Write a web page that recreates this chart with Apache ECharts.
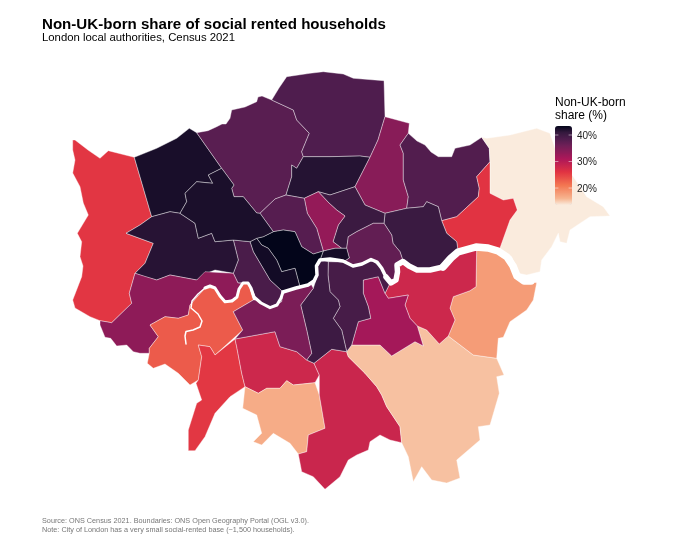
<!DOCTYPE html>
<html><head><meta charset="utf-8">
<style>html,body{margin:0;padding:0;background:#fff}#c{width:680px;height:544px}</style>
<script src="https://cdn.jsdelivr.net/npm/echarts@6/dist/echarts.min.js"></script>
</head><body><div id="c"></div>
<script>
const boroughs = ['Hillingdon','Harrow','Barnet','Enfield','Haringey','Waltham Forest','Redbridge','Havering','Barking and Dagenham','Newham','Hackney','Tower Hamlets','Islington','City of London','Camden','Westminster','Kensington and Chelsea','Hammersmith and Fulham','Ealing','Brent','Hounslow','Richmond upon Thames','Kingston upon Thames','Merton','Sutton','Croydon','Bromley','Bexley','Greenwich','Lewisham','Southwark','Lambeth','Wandsworth'];
const shareValues = [25.8,42.3,37.7,38.5,41.7,34,38.3,13.6,26,40.5,40.4,37,33,42.5,38,43.4,42.6,39,41.6,42.2,33.5,23,25.7,28,16.7,28.3,15.5,18,28,31.7,39.3,40.2,35];
const colourStops = ['#faebdd','#f6b48f','#f59570','#f37651','#ea5449','#e13342','#c7254e','#ad1759','#8e1b58','#701f57','#501d4e','#35193e','#03051a'];
const legendTicks = [40,30,20];
const scaleMin = 13.6, scaleMax = 43.4;

const outlines = {
'Hillingdon':[[72.7,140],[75,140],[88,150],[100,158.3],[108.3,150.7],[134.3,157.3],[151.7,216.7],[140,225],[126,233.3],[153.3,243.3],[145,263.3],[135,273.3],[129.3,293.3],[131.7,303.3],[111.7,322.7],[100,320.7],[90,316.7],[75,308],[72.7,300],[81.7,276.7],[83,266],[80,256.7],[81.7,241.7],[77.3,233.3],[88.3,215],[83.3,203],[80,186.7],[72.7,173],[75,160],[72.7,150]],
'Harrow':[[134.3,157.3],[156.7,148.3],[176.7,138.3],[189.3,128.3],[196.7,132.7],[221.7,168.3],[208.3,175],[212.7,183.3],[196.7,181.7],[185,193.3],[186.7,201.7],[180,213.3],[170,211.7],[151.7,216.7]],
'Barnet':[[196.7,132.7],[208,130.7],[216.7,126.7],[222,124],[226,124],[230,118.3],[231.7,110],[245,107],[256.7,101.7],[258,97],[262,96],[271.7,100],[293.3,110],[296.7,120],[309.3,133.3],[301.7,151.7],[303.3,156.7],[296.7,168.3],[291.7,165],[291.7,176.7],[286,195],[275,199],[260,213.3],[256.7,213],[243.3,196.7],[234,196.7],[231.7,188.3],[234,185],[221.7,168.3]],
'Enfield':[[271.7,100],[279,88],[286.7,76.7],[310,73.3],[323.3,71.7],[343.3,74],[353.3,78.3],[384,80.7],[385,116.7],[378,140],[370,157.3],[360,156],[330,156.7],[303.3,156.7],[301.7,151.7],[309.3,133.3],[296.7,120],[293.3,110]],
'Haringey':[[303.3,156.7],[330,156.7],[360,156],[370,157.3],[355,186.7],[330,195],[318.3,191.7],[304.3,198.3],[286,195],[291.7,176.7],[291.7,165],[296.7,168.3]],
'Waltham Forest':[[385,116.7],[409.3,123.3],[408.3,133.3],[400,145],[403.3,153.3],[403.3,180],[408.3,196.7],[406.7,208.3],[385,213.3],[365,205],[355,186.7],[370,157.3],[378,140]],
'Redbridge':[[408.3,133.3],[417,141],[425,145],[431,152],[438.3,156.7],[451.7,156.7],[455,148.3],[470,145],[481.7,137.3],[489.3,148.3],[490,161.7],[476.7,176.7],[479.3,188.3],[478.3,196.7],[456.7,216.7],[441.7,220.7],[438.3,206.7],[426.7,201.7],[423.3,206.7],[406.7,208.3],[408.3,196.7],[403.3,180],[403.3,153.3],[400,145]],
'Havering':[[481.7,137.3],[486.7,138.3],[510,135],[536.7,128.3],[550,133.3],[556.7,153],[573.3,176.7],[586.7,196.7],[603.3,206.7],[610,216],[590,216.7],[570,230],[566.7,243.3],[560,241.7],[558.3,233.3],[551.7,246.7],[541.7,260],[540,271.7],[526.7,275],[518.3,273.3],[511.7,256.7],[499.3,250],[510,220],[517.3,210],[513.3,198.3],[503.3,200],[490,193.3],[490,161.7],[489.3,148.3]],
'Barking and Dagenham':[[490,161.7],[490,193.3],[503.3,200],[513.3,198.3],[517.3,210],[510,220],[499.3,250],[476.7,246.7],[458.3,252],[456.7,241.7],[446.7,233.3],[441.7,220.7],[456.7,216.7],[478.3,196.7],[479.3,188.3],[476.7,176.7]],
'Newham':[[385,213.3],[406.7,208.3],[423.3,206.7],[426.7,201.7],[438.3,206.7],[441.7,220.7],[446.7,233.3],[456.7,241.7],[458.3,252],[443.3,266.7],[416.7,270],[403.3,261.7],[400,251.7],[393,243.3],[391.7,235],[384,223.3]],
'Hackney':[[330,195],[355,186.7],[365,205],[385,213.3],[384,223.3],[373.3,223.3],[356.7,231.7],[348.3,236.7],[346.7,248.3],[341.7,248.3],[333,241.7],[338.3,225],[345,216],[336.7,210],[329,203],[318.3,191.7]],
'Tower Hamlets':[[348.3,236.7],[356.7,231.7],[373.3,223.3],[384,223.3],[391.7,235],[393,243.3],[400,251.7],[403.3,261.7],[396.7,265],[397.3,276.7],[390,283.3],[381.7,268.3],[371.7,260],[353.3,266.7],[343,262],[349.3,258],[346.7,248.3]],
'Islington':[[304.3,198.3],[318.3,191.7],[329,203],[336.7,210],[345,216],[338.3,225],[333,241.7],[341.7,248.3],[335,248.3],[323.3,251],[316.7,228.3],[307.3,213.3]],
'City of London':[[323.3,251],[335,248.3],[346.7,248.3],[349.3,258],[343,262],[330,259],[320,260]],
'Camden':[[286,195],[304.3,198.3],[307.3,213.3],[316.7,228.3],[323.3,251],[313.3,254],[301.7,246.7],[295,231.7],[283.3,230],[273.3,231.7],[260,213.3],[275,199]],
'Westminster':[[273.3,231.7],[283.3,230],[295,231.7],[301.7,246.7],[313.3,254],[323.3,251],[320,260],[316.7,265],[316.7,278],[311,284],[300,287],[295,268.3],[281.7,271.7],[276.7,260],[268.3,248.3],[261.7,245],[256.7,238.3],[263.3,236.7]],
'Kensington and Chelsea':[[250,241.7],[256.7,238.3],[261.7,245],[268.3,248.3],[276.7,260],[281.7,271.7],[295,268.3],[300,287],[283,292],[270,280],[253.3,251.7]],
'Hammersmith and Fulham':[[233.3,240],[250,241.7],[253.3,251.7],[270,280],[283,292],[281.7,301.7],[270,307.7],[256.7,300],[251.7,288.3],[245,282.7],[238,283],[233.3,273.3],[238.3,260]],
'Ealing':[[151.7,216.7],[170,211.7],[180,213.3],[195,223.3],[198.3,238.3],[211.7,233.3],[215,241.7],[233.3,240],[238.3,260],[233.3,273.3],[215,270],[206.7,273.3],[196.7,280],[170,275],[156.7,280],[145,276.7],[135,273.3],[145,263.3],[153.3,243.3],[126,233.3],[140,225]],
'Brent':[[221.7,168.3],[234,185],[231.7,188.3],[234,196.7],[243.3,196.7],[256.7,213],[260,213.3],[273.3,231.7],[263.3,236.7],[256.7,238.3],[250,241.7],[233.3,240],[215,241.7],[211.7,233.3],[198.3,238.3],[195,223.3],[180,213.3],[186.7,201.7],[185,193.3],[196.7,181.7],[212.7,183.3],[208.3,175]],
'Hounslow':[[135,273.3],[156.7,280],[170,275],[196.7,280],[205,271.7],[233.3,273.3],[238,283],[241.7,283.3],[236.7,298.3],[225,301.7],[215,288],[205,288],[190,305],[188.3,315],[178.3,318.3],[165,316.7],[150,325],[158.3,336.7],[149.3,348.3],[149.3,353.3],[140,353.3],[133.3,351.7],[126.7,345],[116.7,346],[110.7,338.3],[105,337.3],[100,325],[100,320.7],[111.7,322.7],[131.7,303.3],[129.3,293.3]],
'Richmond upon Thames':[[190,305],[205,288],[215,288],[225,301.7],[236.7,298.3],[241.7,283.3],[248.3,283.3],[253.3,300],[233.3,311.7],[242.7,330],[215,355],[210,346.7],[198.3,345],[201.7,356.7],[198.3,380],[190,385],[178.3,373.3],[165,364],[153.3,368.3],[147.3,363.3],[149.3,353.3],[149.3,348.3],[158.3,336.7],[150,325],[165,316.7],[178.3,318.3],[188.3,315]],
'Kingston upon Thames':[[198.3,345],[210,346.7],[215,355],[235,339],[236.7,346.7],[241.7,373.3],[245,386.7],[230,396.7],[215,413.3],[205,436.7],[195,450.7],[188.3,450.7],[188.3,430],[196.7,403.3],[201.7,400],[196,383.3],[198.3,380],[201.7,356.7]],
'Merton':[[235,339],[275,331.7],[280,346.7],[296.7,351.7],[306.7,360],[314,363.3],[319.3,375],[315,382.7],[293.3,385],[286.7,380.7],[280,388.3],[266.7,388.3],[258.3,393.3],[245,386.7],[241.7,373.3],[236.7,346.7]],
'Sutton':[[245,386.7],[258.3,393.3],[266.7,388.3],[280,388.3],[286.7,380.7],[293.3,385],[315,382.7],[319.3,395],[325,428.3],[308.3,435],[306.7,451.7],[298.3,454],[290,443.3],[273.3,433.3],[261.7,445],[253.3,441.7],[261.7,433.3],[256.7,415],[242.7,408.3]],
'Croydon':[[314,363.3],[331.7,349.3],[346.7,351.7],[348.3,356.7],[365,373.3],[376.7,386.7],[381.7,395],[386.7,406.7],[400,426.7],[401.7,442.7],[390,440],[380,435],[370,441.7],[368.3,450],[356.7,455],[348.3,460],[340,476.7],[325,489.3],[313.3,476.7],[301.7,471.7],[298.3,454],[306.7,451.7],[308.3,435],[325,428.3],[319.3,395],[319.3,375]],
'Bromley':[[346.7,351.7],[351.7,345],[380,345],[391.7,356],[415,341.7],[423.3,346],[417.3,326],[426.7,330],[439.3,344],[448.3,336],[473.3,355],[496.7,358.3],[504,375],[496.7,376.7],[499.3,393.3],[490,425],[478.3,426.7],[480,440],[456.7,460],[460,478],[446.7,483],[431.7,480],[421.7,466.7],[413.3,481.7],[408.3,456.7],[401.7,442.7],[400,426.7],[386.7,406.7],[381.7,395],[376.7,386.7],[365,373.3],[348.3,356.7]],
'Bexley':[[476.7,246.7],[499.3,250],[511.7,260],[518.3,276],[530,282],[536.7,282.7],[533.3,300],[526.7,310],[510,321.7],[503.3,337.3],[498.3,338.3],[496.7,358.3],[473.3,355],[448.3,336],[455,320],[450,308.3],[453.3,296.7],[470,290.7],[476,286.7]],
'Greenwich':[[396.7,265],[403.3,261.7],[416.7,270],[443.3,266.7],[456.7,253.3],[476.7,246.7],[476,286.7],[470,290.7],[453.3,296.7],[450,308.3],[455,320],[448.3,336],[439.3,344],[426.7,330],[417.3,326],[410,318.3],[405,305],[408.3,295],[388.3,298.3],[385,293.3],[390,283.3],[397.3,276.7]],
'Lewisham':[[363.3,280],[378.3,276.7],[385,293.3],[388.3,298.3],[408.3,295],[405,305],[410,318.3],[417.3,326],[423.3,346],[415,341.7],[391.7,356],[380,345],[351.7,345],[358.3,321.7],[370.7,318.3],[368.3,306.7],[363.3,293.3]],
'Southwark':[[328.3,261.7],[343,262],[353.3,266.7],[371.7,260],[381.7,268.3],[390,283.3],[385,293.3],[378.3,276.7],[363.3,280],[363.3,293.3],[368.3,306.7],[370.7,318.3],[358.3,321.7],[351.7,345],[346.7,351.7],[341.7,330],[333.3,318.3],[340,306.7],[338.3,300],[330,291.7],[328,275]],
'Lambeth':[[316.7,265],[320,260],[328.3,261.7],[328,275],[330,291.7],[338.3,300],[340,306.7],[333.3,318.3],[341.7,330],[346.7,351.7],[331.7,349.3],[314,363.3],[306.7,360],[311.7,353.3],[306.7,330],[300.7,305],[313.3,288.3],[316.7,278]],
'Wandsworth':[[253.3,300],[256.7,300],[270,307.7],[281.7,301.7],[283,292],[300,287],[311,284],[313.3,288.3],[300.7,305],[306.7,330],[311.7,353.3],[306.7,360],[296.7,351.7],[280,346.7],[275,331.7],[235,339],[242.7,330],[233.3,311.7]]
};
const thamesReaches = [
 {w:1.5,pts:[[186,344],[185,336],[186,331.5],[193,330],[200,327],[202,321],[198,314],[191,308],[192,301],[198,294],[205,288]]},
 {w:3,pts:[[205,288],[210,286],[215,288],[220,296],[225,301.7],[232,301],[237,297],[239,289],[243,283],[248,283],[251,288],[254,297],[261,303],[270,307.7],[277,305],[281,298],[283,292]]},
 {w:3.5,pts:[[283,292],[296,288],[308,285],[314,281],[317,275],[316.5,266],[320,260],[330,259],[343,261],[353,266],[362,264],[371,259.5],[377,262],[381.7,268.3],[386,277]]},
 {w:5.5,pts:[[386,277],[391,283],[396,280],[397.5,272],[397,265],[403,261.5],[409,266],[417,270],[430,270],[443,267]]},
 {w:7.5,pts:[[443,267],[451,258],[458,252],[476,247],[488,248],[498,251],[507,257],[513,266],[517,276],[524,281],[531,281]]}
];

const features = boroughs.map(name => {
  const ring = outlines[name].map(p => [p[0], -p[1]]);
  ring.push(ring[0]);
  return {type:'Feature',properties:{name},geometry:{type:'Polygon',coordinates:[ring]}};
});
echarts.registerMap('london',{type:'FeatureCollection',features});

const FONT = '"Liberation Sans", Arial, sans-serif';
const barTop = 126, barH = 79, barX = 555, barW = 17;
const tickY = v => barTop + (scaleMax - v) / (scaleMax - scaleMin) * barH;

const chart = echarts.init(document.getElementById('c'),null,{renderer:'canvas'});
chart.setOption({
  animation:false,
  backgroundColor:'#fff',
  title:[
    {text:'Non-UK-born share of social rented households',left:42,top:17.5,padding:0,textStyle:{fontFamily:FONT,fontSize:15.1,fontWeight:'bold',color:'#000'}},
    {text:'London local authorities, Census 2021',left:42,top:32,padding:0,textStyle:{fontFamily:FONT,fontSize:11.35,fontWeight:'normal',color:'#000'}},
    {text:'Source: ONS Census 2021. Boundaries: ONS Open Geography Portal (OGL v3.0).\nNote: City of London has a very small social-rented base (~1,500 households).',left:42,top:517.2,padding:0,textStyle:{fontFamily:FONT,fontSize:7.27,fontWeight:'normal',color:'#777',lineHeight:8.4}},
    {text:'Non-UK-born\nshare (%)',left:barX,top:95.7,padding:0,textStyle:{fontFamily:FONT,fontSize:12,fontWeight:'normal',color:'#000',lineHeight:13.4}}
  ],
  visualMap:{type:'continuous',min:scaleMin,max:scaleMax,seriesIndex:0,left:barX,top:barTop,itemWidth:barW,itemHeight:barH,text:['',''],showLabel:false,calculable:false,hoverLink:false,padding:0,inRange:{color:colourStops},textStyle:{fontSize:0}},
  geo:{map:'london',roam:false,silent:true,left:0,top:0,width:680,height:544,aspectScale:1,boundingCoords:[[0,0],[680,-544]],label:{show:false},itemStyle:{areaColor:'#fff',borderColor:'#fff',borderWidth:0.4},emphasis:{disabled:true}},
  series:[
    {type:'map',geoIndex:0,silent:true,data:boroughs.map((name,i)=>({name,value:shareValues[i]}))},
    {type:'lines',coordinateSystem:'geo',polyline:true,silent:true,zlevel:1,effect:{show:false},
     data:thamesReaches.map(r=>({coords:r.pts.map(p=>[p[0],-p[1]]),lineStyle:{width:r.w,color:'#fff',opacity:1,cap:'round',join:'round'}})),
     lineStyle:{color:'#fff',opacity:1,cap:'round',join:'round'}}
  ],
  graphic:[
    ...legendTicks.flatMap(v=>[
      {type:'line',z:100,silent:true,shape:{x1:barX,y1:tickY(v),x2:barX+3.4,y2:tickY(v)},style:{stroke:'#fff',lineWidth:0.5}},
      {type:'line',z:100,silent:true,shape:{x1:barX+barW-3.4,y1:tickY(v),x2:barX+barW,y2:tickY(v)},style:{stroke:'#fff',lineWidth:0.5}},
      {type:'text',z:100,silent:true,left:577,top:tickY(v)-4,style:{text:v+'%',fontFamily:FONT,fontSize:10,fill:'#222'}}
    ])
  ]
});
</script></body></html>
